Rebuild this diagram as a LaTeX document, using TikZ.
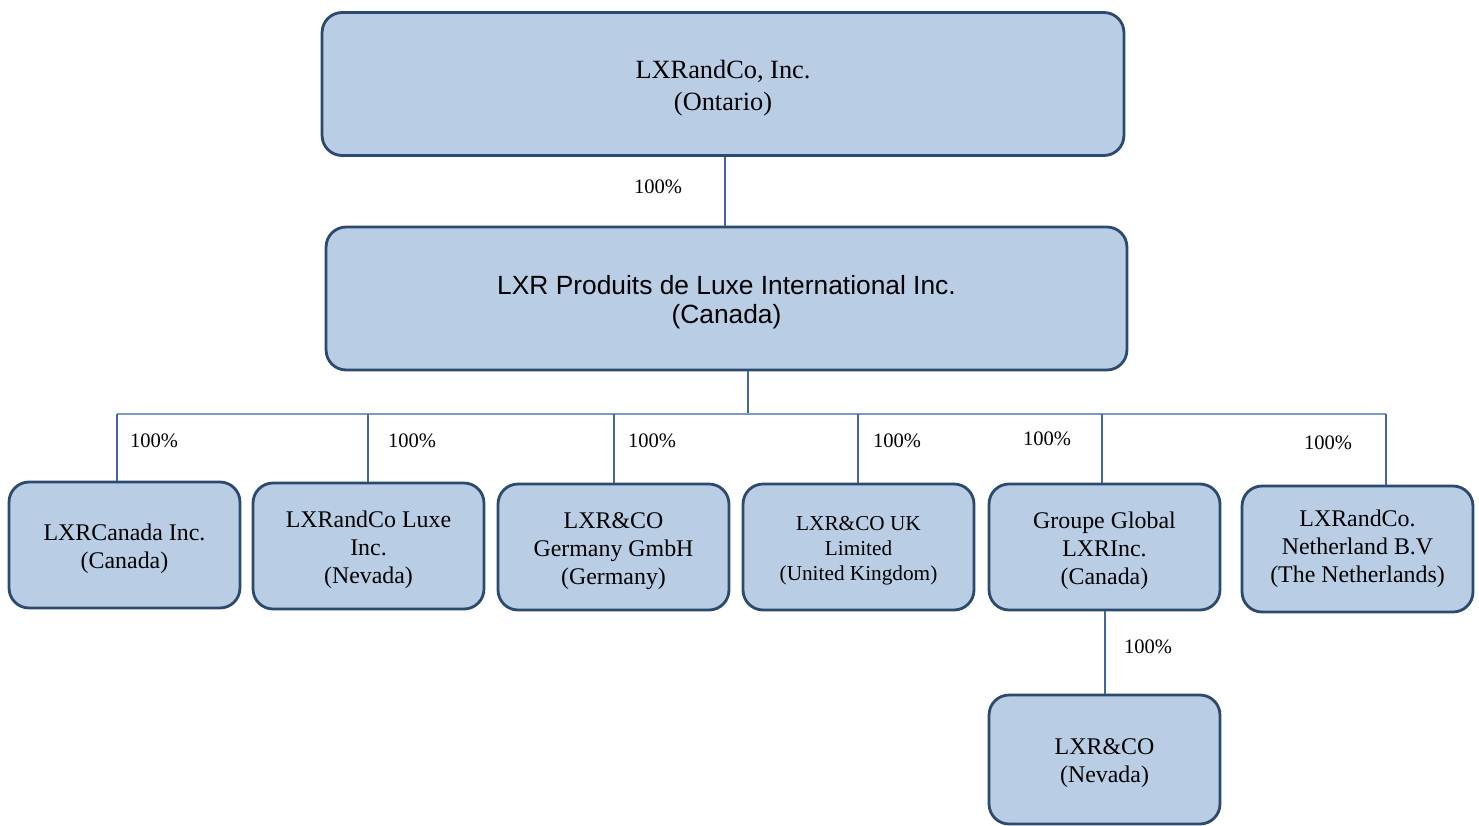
\documentclass[tikz,border=0pt]{standalone}
\usepackage{fontspec}
\setmainfont{Liberation Serif}
\newfontfamily\arialfont{Liberation Sans}
\usetikzlibrary{positioning}
\definecolor{boxfill}{HTML}{B9CDE5}
\definecolor{boxedge}{HTML}{2C4A6E}
\definecolor{linkline}{HTML}{41679A}
\definecolor{busline}{HTML}{7C9BC4}
\newcommand{\gap}{\rule{0pt}{1em}}

\begin{document}
\begin{tikzpicture}[x=0.02cm, y=-0.02cm,
    entity/.style={draw=boxedge, fill=boxfill, line width=1.6pt, rounded corners=0.4cm,
      align=center, minimum width=4.62cm, minimum height=2.52cm, inner sep=0pt,
      font=\fontsize{13.6}{16}\selectfont},
    link/.style={draw=linkline, line width=1.1pt},
    share/.style={font=\fontsize{11.7}{14}\selectfont, inner sep=0pt}]
  \useasboundingbox (0,0) rectangle (1479,825);
  % parent companies
  \node [entity, minimum width=16.04cm, minimum height=2.86cm, font=\fontsize{15}{18.2}\selectfont] (ontario) at (723,84) {\gap LXRandCo, Inc.\\(Ontario)};
  \node [entity, minimum width=16.02cm, minimum height=2.86cm, font=\arialfont\fontsize{15}{17}\selectfont] (canada) at (726.5,298.5) {\gap LXR Produits de Luxe International Inc.\\(Canada)};
  % subsidiaries
  \node [entity] (cda) at (124.5,545) {\gap LXRCanada Inc.\\(Canada)};
  \node [entity] (lux) at (368.5,546) {\gap LXRandCo Luxe\\Inc.\\(Nevada)};
  \node [entity] (ger) at (613.5,547) {\gap LXR\&CO\\Germany GmbH\\(Germany)};
  \node [entity, font=\fontsize{12.1}{14.3}\selectfont] (uk) at (858.5,547) {\gap LXR\&CO UK\\Limited\\(United Kingdom)};
  \node [entity] (ggl) at (1104.5,547) {\gap Groupe Global\\LXRInc.\\(Canada)};
  \node [entity] (ned) at (1357.5,549) {LXRandCo.\\Netherland B.V\\(The Netherlands)};
  \node [entity, minimum height=2.58cm] (nev) at (1104.5,759.5) {\gap LXR\&CO\\(Nevada)};
  % connectors
  \coordinate (bus) at (748,414);
  \coordinate (busw) at (117,414);
  \coordinate (buse) at (1386,414);
  \draw [link] (ontario.south -| 725,0) -- (canada.north -| 725,0);
  \draw [link] (canada.south -| bus) -- (bus);
  \draw [draw=busline, line width=0.7pt] (busw) -- (buse);
  \foreach \x/\sub in {117/cda, 368/lux, 614/ger, 858/uk, 1102/ggl, 1386/ned} {
    \coordinate (tap\sub) at (\x,414);
    \draw [link] (tap\sub) -- (tap\sub |- \sub.north);
  }
  \draw [link] (ggl.south -| 1105,0) -- (nev.north -| 1105,0);
  % shares
  \foreach \x/\y/\lbl in {658/187/top, 154/441/cda, 412/441/lux, 652/441/ger, 897/441/uk, 1047/439/ggl, 1328/443/ned, 1148/647/nev}
    \node [share] (pct\lbl) at (\x,\y) {100\%};
\end{tikzpicture}
\end{document}
